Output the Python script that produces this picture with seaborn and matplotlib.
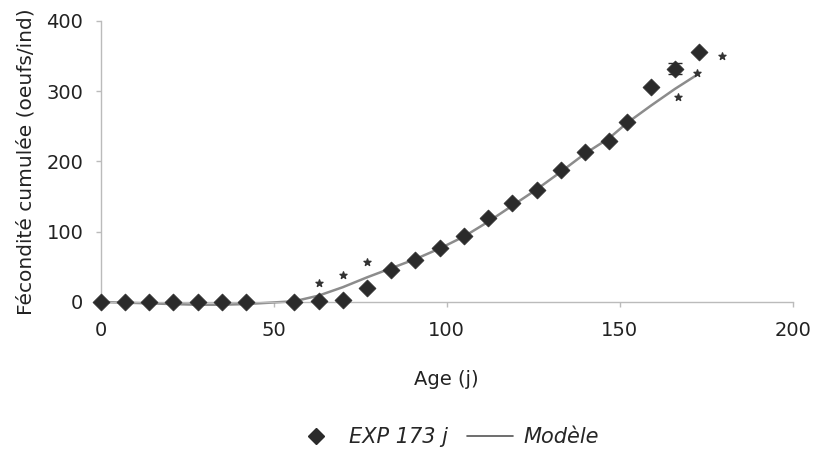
import matplotlib
matplotlib.use('Agg')
import matplotlib.pyplot as plt
import seaborn as sns
import pandas as pd
from matplotlib.lines import Line2D

# Observed cumulative fecundity (EXP 173 j)
age = [0, 7, 14, 21, 28, 35, 42, 56, 63, 70, 77, 84, 91, 98, 105, 112,
       119, 126, 133, 140, 147, 152, 159, 166, 173]
fecondite = [0, 0, 0, 0, 0, 0, 0, 0, 1, 3, 20, 46, 59, 77, 94, 119,
             141, 159, 187, 213, 229, 256, 305, 332, 355]

# Model curve read at the same ages
modele = [0, -1, -2, -3, -4, -4, -3, 1, 9, 21, 35, 48, 61, 76, 93, 114,
          137, 160, 185, 211, 233, 254, 279, 303, 325]

# error bar on the 166 j point
err_age = [166]
err_val = [332]
err_size = [8]

# significance asterisks
star_x = [63, 70, 77, 167, 172.5, 179.5]
star_y = [27, 39, 57, 292, 325, 350]

sns.set_style('white')
plt.rcParams['font.family'] = ['DejaVu Sans']

obs = pd.DataFrame({'age': age, 'fec': fecondite})
mod = pd.DataFrame({'age': age, 'fec': modele})

fig = plt.figure(figsize=(8.15, 4.5), dpi=100)
ax = fig.add_axes([0.1235, 0.329, 0.849, 0.625])

sns.lineplot(data=mod, x='age', y='fec', color='#8c8c8c', linewidth=1.8,
             ax=ax, zorder=2, clip_on=False)
ax.errorbar(err_age, err_val, yerr=err_size, fmt='none', ecolor='#2b2b2b',
            elinewidth=1.2, capsize=5, zorder=3)
sns.scatterplot(data=obs, x='age', y='fec', marker='D', s=75, color='#2b2b2b',
                edgecolor='#2b2b2b', linewidth=0.5, ax=ax, zorder=4, clip_on=False)
ax.scatter(star_x, star_y, marker='*', s=28, color='#333333', zorder=5)

ax.set_xlim(0, 200)
ax.set_ylim(0, 400)
ax.set_xticks([0, 50, 100, 150, 200])
ax.set_yticks([0, 100, 200, 300, 400])
ax.tick_params(axis='both', labelsize=14, colors='#bbbbbb', labelcolor='#222222',
               length=3.5, width=1, direction='out', bottom=True, left=True)
ax.tick_params(axis='x', pad=10)
ax.tick_params(axis='y', pad=9)

for side in ['top', 'right']:
    ax.spines[side].set_visible(False)
for side in ['left', 'bottom']:
    ax.spines[side].set_color('#bbbbbb')
    ax.spines[side].set_linewidth(1)

ax.set_xlabel('Age (j)', fontsize=14, color='#222222', labelpad=22)
ax.set_ylabel('Fécondité cumulée (oeufs/ind)', fontsize=14.5, color='#222222', labelpad=8)

handles = [
    Line2D([], [], marker='D', linestyle='none', color='#2b2b2b', markersize=8),
    Line2D([], [], color='#555555', linewidth=1.2),
]
fig.legend(handles, ['EXP 173 j', 'Modèle'], loc='center', bbox_to_anchor=(0.547, 0.028),
           ncol=2, frameon=False, handlelength=2.2, handletextpad=0.5, columnspacing=0.9,
           prop={'size': 15, 'style': 'italic'})

fig.savefig('out.png', dpi=100)
